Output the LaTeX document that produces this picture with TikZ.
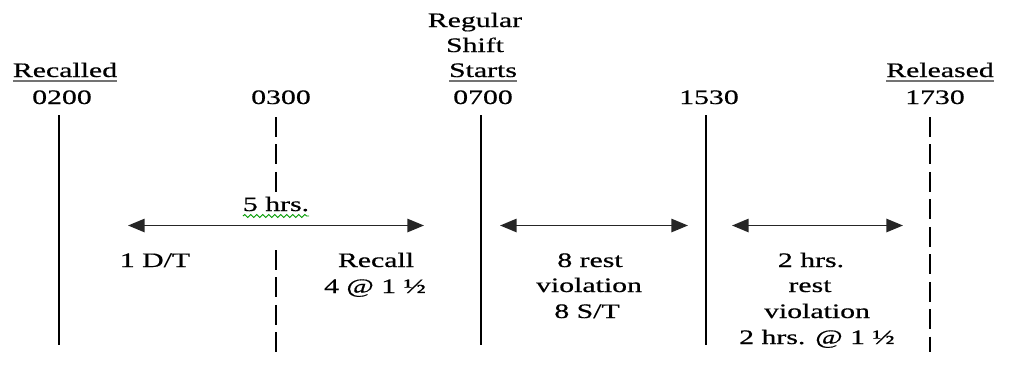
\documentclass[tikz,border=0pt]{standalone}
\usepackage{fontspec}
\setmainfont[FakeStretch=1.45,FakeBold=0.6]{Liberation Serif}
\usetikzlibrary{arrows.meta,decorations.pathmorphing,calc}
\begin{document}
\begin{tikzpicture}[x=0.75pt,y=-0.75pt,
  lbl/.style={inner sep=0pt,outer sep=0pt,anchor=base,font=\fontsize{15.4pt}{19.5pt}\selectfont},
  vline/.style={line width=1.2pt,black},
  vdash/.style={line width=1.2pt,black,dash pattern=on 15pt off 5.6pt},
  span/.style={line width=1.4pt,black!85,{Triangle[length=12.5pt,width=10pt]}-{Triangle[length=12.5pt,width=10pt]}},
  ul/.style={line width=1.4pt,black!55},
  squig/.style={draw=green!60!black,line width=0.7pt,decorate,decoration={snake,segment length=4.5pt,amplitude=1.1pt}}]
\useasboundingbox (0,0) rectangle (1020,390);
% header labels
\node[lbl] (reg) at (475,27) {Regular};
\node[lbl] (shift) at (475,52) {Shift};
\node[lbl] (starts) at (483,77) {Starts};
\node[lbl] (t0700) at (483,104) {0700};
\node[lbl] (rec) at (65,77) {Recalled};
\node[lbl] (t0200) at (62,104) {0200};
\node[lbl] (t0300) at (281,104) {0300};
\node[lbl] (t1530) at (709,104) {1530};
\node[lbl] (rel) at (940,77) {Released};
\node[lbl] (t1730) at (935,104) {1730};
% underlines
\draw[ul] ($(rec.base west)+(0,4)$) -- ($(rec.base east)+(0,4)$);
\draw[ul] ($(starts.base west)+(0,4)$) -- ($(starts.base east)+(0,4)$);
\draw[ul] ($(rel.base west)+(0,4)$) -- ($(rel.base east)+(0,4)$);
% vertical lines
\coordinate (a1) at (59,115); \coordinate (a2) at (59,345);
\coordinate (b1) at (276,117); \coordinate (b2) at (276,193);
\coordinate (b3) at (276,250); \coordinate (b4) at (276,352);
\coordinate (c1) at (481,115); \coordinate (c2) at (481,345);
\coordinate (d1) at (706,115); \coordinate (d2) at (706,345);
\coordinate (e1) at (930,117); \coordinate (e2) at (930,352);
\draw[vline] (a1) -- (a2);
\draw[vdash] (b1) -- (b2);
\draw[vdash] (b3) -- (b4);
\draw[vline] (c1) -- (c2);
\draw[vline] (d1) -- (d2);
\draw[vdash] (e1) -- (e2);
% span arrows
\coordinate (p1) at (128,225.5); \coordinate (p2) at (424,225.5);
\coordinate (q1) at (500,225.5); \coordinate (q2) at (688,225.5);
\coordinate (r1) at (732,225.5); \coordinate (r2) at (903,225.5);
\draw[span] (p1) -- (p2);
\draw[span] (q1) -- (q2);
\draw[span] (r1) -- (r2);
% span labels
\node[lbl] (five) at (276,211) {5 hrs.};
\draw[squig] ($(five.base west)+(0,5)$) -- ($(five.base east)+(0,5)$);
\node[lbl] (dt) at (155,267) {1 D/T};
\node[lbl] (recall) at (376,267) {Recall};
\node[lbl] (recallb) at (375,293) {4 @ 1 ½};
\node[lbl] (rest1) at (590,267) {8 rest};
\node[lbl] (viol1) at (589,292) {violation};
\node[lbl] (st) at (587,318) {8 S/T};
\node[lbl] (two) at (811,267) {2 hrs.};
\node[lbl] (rest2) at (810,292) {rest};
\node[lbl] (viol2) at (817,318) {violation};
\node[lbl] (twob) at (817,344) {2 hrs. @ 1 ½};
\end{tikzpicture}
\end{document}
